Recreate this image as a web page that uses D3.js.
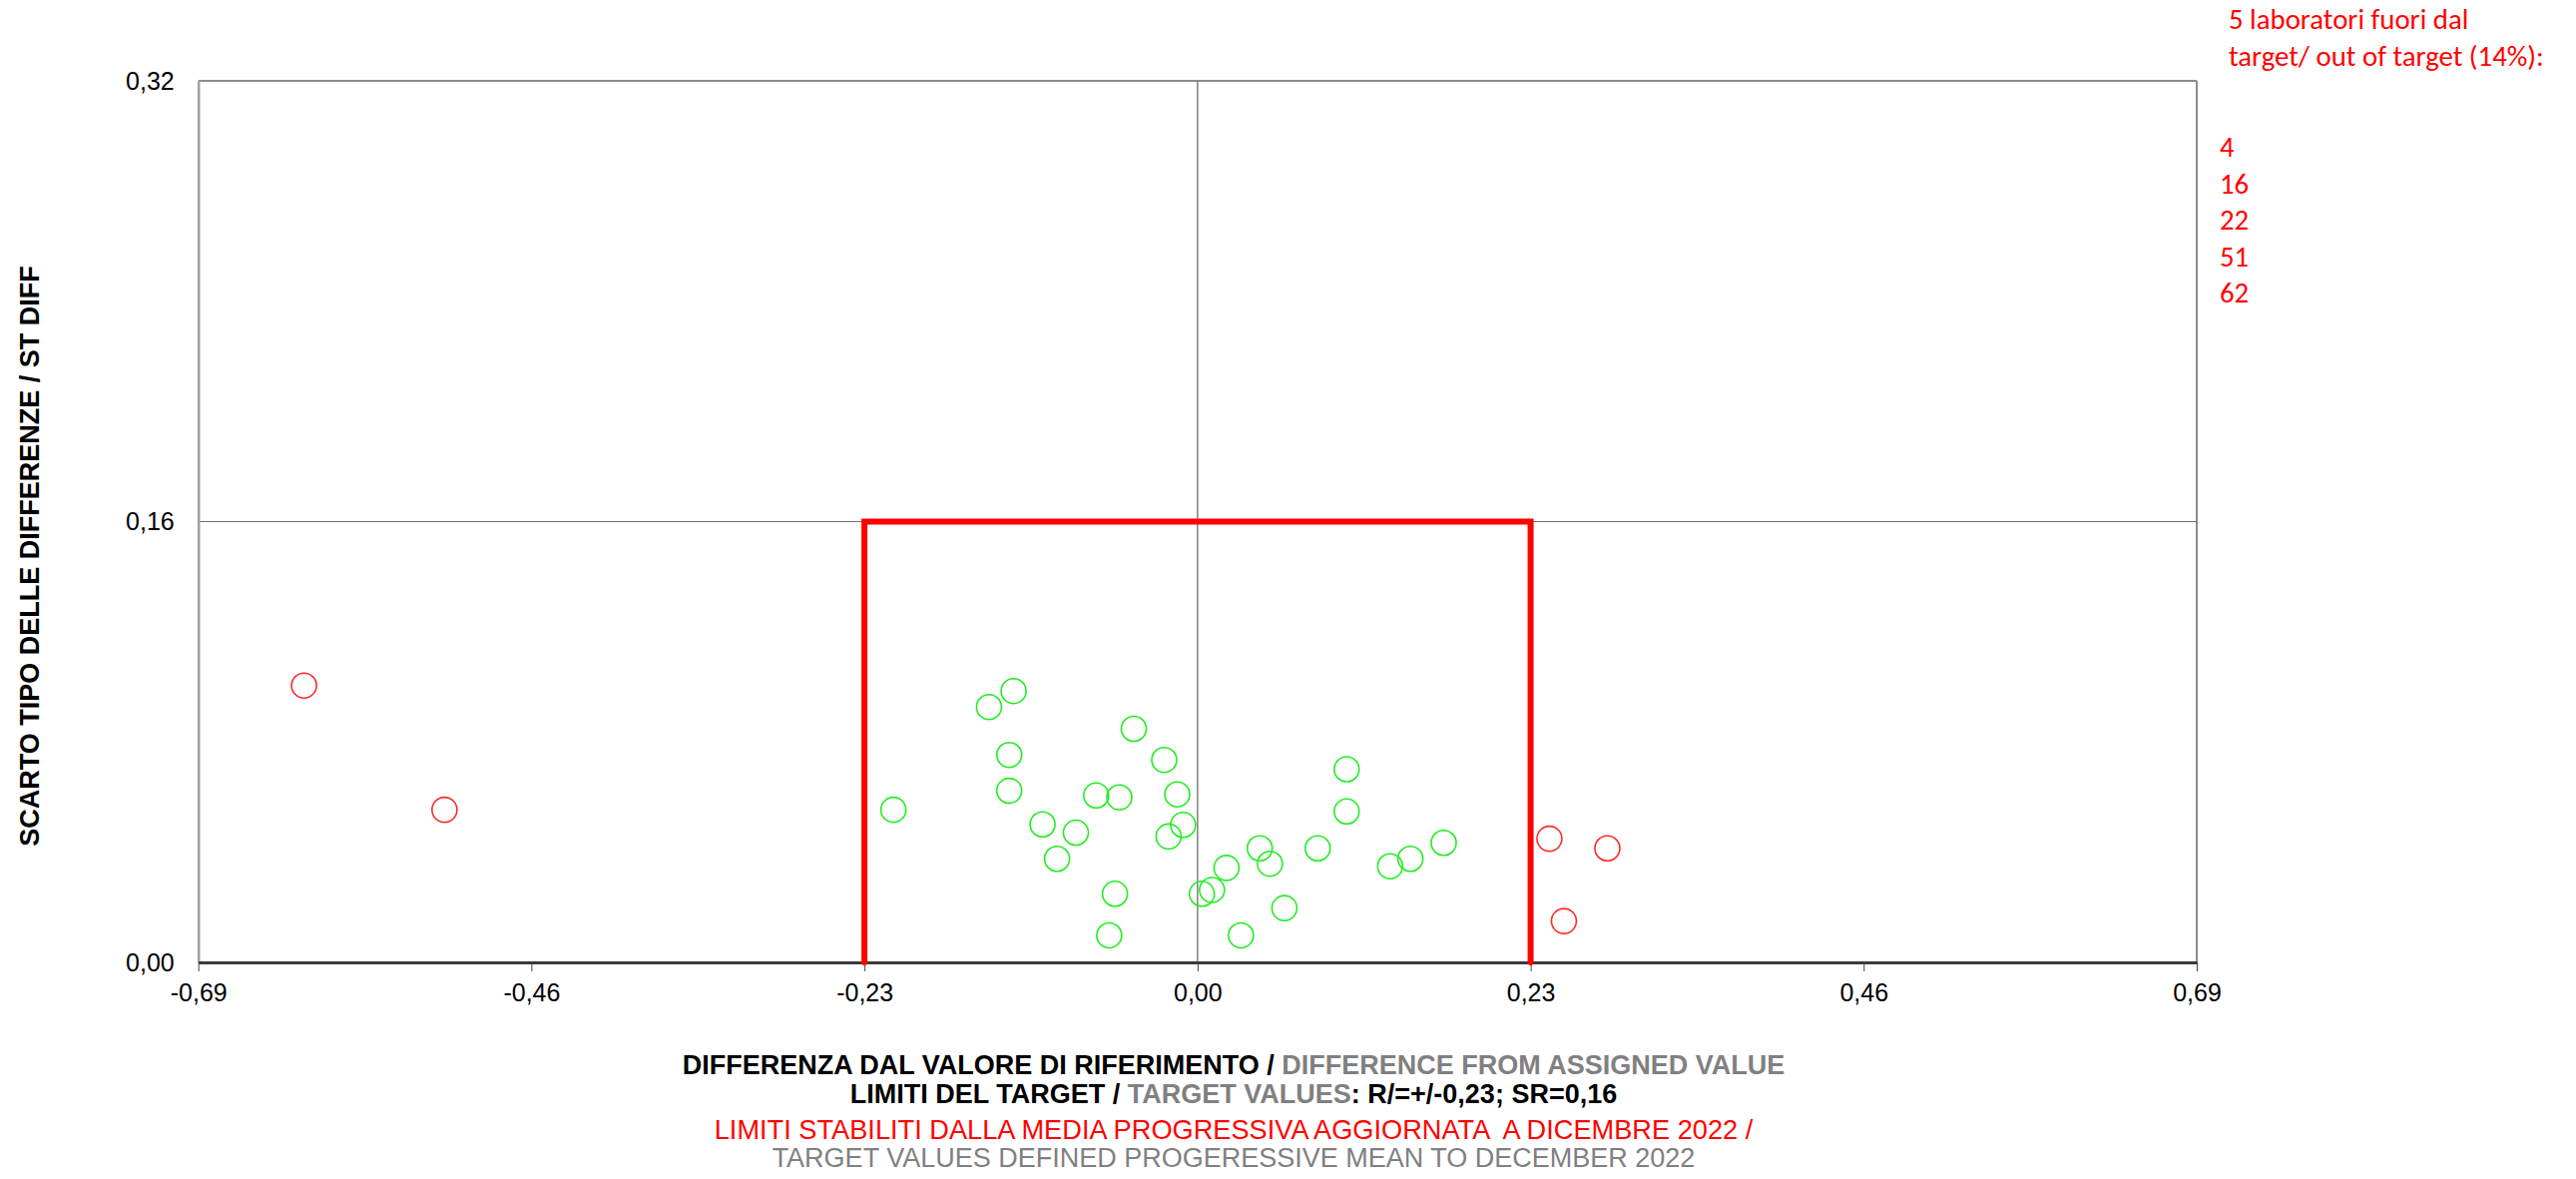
<!DOCTYPE html>
<html>
<head>
<meta charset="utf-8">
<script src="https://cdn.jsdelivr.net/npm/d3@7/dist/d3.min.js"></script>
<style>
  html, body { margin: 0; padding: 0; background: #fff; }
  svg { display: block; }
  text { white-space: pre; }
</style>
</head>
<body>
<script>
// ---------------- DATA ----------------
const xTickValues = [-0.69, -0.46, -0.23, 0.00, 0.23, 0.46, 0.69];
const xTickLabels = ["-0,69", "-0,46", "-0,23", "0,00", "0,23", "0,46", "0,69"];
const yTickValues = [0.00, 0.16, 0.32];
const yTickLabels = ["0,00", "0,16", "0,32"];

// laboratories inside target (green)
const inX = [-0.210, -0.144, -0.127, -0.044, -0.130, -0.023, -0.130, -0.070, -0.054, -0.014,
             -0.107, -0.084, -0.020, -0.010, -0.097, -0.057, -0.061,  0.003,  0.010,  0.020,
              0.043,  0.050,  0.060,  0.030,  0.083,  0.103,  0.103,  0.133,  0.147,  0.170];
const inY = [ 0.0554, 0.0927, 0.0985, 0.0848, 0.0753, 0.0735, 0.0623, 0.0606, 0.0599, 0.0610,
              0.0501, 0.0471, 0.0457, 0.0499, 0.0376, 0.0249, 0.0098, 0.0249, 0.0263, 0.0343,
              0.0414, 0.0358, 0.0197, 0.0098, 0.0414, 0.0701, 0.0548, 0.0349, 0.0376, 0.0434];

// laboratories out of target (red)
const outX = [-0.617, -0.520, 0.243, 0.253, 0.283];
const outY = [ 0.1005, 0.0554, 0.0449, 0.0150, 0.0414];

// target limits
const targetR = 0.23;
const targetSR = 0.16;

const outLabs = ["4", "16", "22", "51", "62"];
const noteLines = ["5 laboratori fuori dal", "target/ out of target (14%):"];

// ---------------- CHART ----------------
const W = 2581, H = 1181;
const svg = d3.select("body").append("svg").attr("width", W).attr("height", H);
const FONT = "'Liberation Sans', Arial, sans-serif";

const x = d3.scaleLinear().domain([-0.69, 0.69]).range([198.7, 2201]);
const y = d3.scaleLinear().domain([0, 0.32]).range([964, 81]);

// frame (top, right)
svg.append("line").attr("x1", x(-0.69)).attr("x2", x(0.69)).attr("y1", y(0.32)).attr("y2", y(0.32))
  .attr("stroke", "#8c8c8c").attr("stroke-width", 2);
svg.append("line").attr("x1", x(0.69)).attr("x2", x(0.69)).attr("y1", y(0.32)).attr("y2", y(0))
  .attr("stroke", "#8c8c8c").attr("stroke-width", 2);

// gridlines
svg.append("line").attr("x1", x(-0.69)).attr("x2", x(0.69)).attr("y1", y(0.16)).attr("y2", y(0.16))
  .attr("stroke", "#707070").attr("stroke-width", 1.2);
svg.append("line").attr("x1", x(0)).attr("x2", x(0)).attr("y1", y(0.32)).attr("y2", y(0))
  .attr("stroke", "#808080").attr("stroke-width", 1.5);

// y axis
const yAxis = svg.append("g").attr("transform", `translate(${x(-0.69)},0)`)
  .call(d3.axisLeft(y).tickValues(yTickValues).tickFormat((d, i) => yTickLabels[i]).tickSize(0).tickPadding(24));
yAxis.select(".domain").attr("stroke", "#a0a0a0").attr("stroke-width", 2.5);
yAxis.selectAll("text").attr("font-family", FONT).attr("font-size", 25).attr("fill", "#000");

// x axis
const xAxis = svg.append("g").attr("transform", `translate(0,${y(0)})`)
  .call(d3.axisBottom(x).tickValues(xTickValues).tickFormat((d, i) => xTickLabels[i]).tickSize(9).tickSizeOuter(0).tickPadding(12));
xAxis.select(".domain").attr("stroke", "#3a3a3a").attr("stroke-width", 3);
xAxis.selectAll(".tick line").attr("stroke", "#444").attr("stroke-width", 1);
xAxis.selectAll("text").attr("font-family", FONT).attr("font-size", 25).attr("fill", "#000");

// target box
const boxPts = [[-targetR, 0], [-targetR, targetSR], [targetR, targetSR], [targetR, 0]];
svg.append("path")
  .attr("d", d3.line().x(d => x(d[0])).y(d => y(d[1]))(boxPts))
  .attr("fill", "none").attr("stroke", "#ff0000").attr("stroke-width", 6)
  .attr("stroke-linecap", "round").attr("stroke-linejoin", "miter");

// points
svg.append("g").selectAll("circle").data(inX.map((v, i) => [v, inY[i]])).join("circle")
  .attr("cx", d => x(d[0])).attr("cy", d => y(d[1])).attr("r", 12.5)
  .attr("fill", "none").attr("stroke", "#22ee22").attr("stroke-width", 1.6);
svg.append("g").selectAll("circle").data(outX.map((v, i) => [v, outY[i]])).join("circle")
  .attr("cx", d => x(d[0])).attr("cy", d => y(d[1])).attr("r", 12.5)
  .attr("fill", "none").attr("stroke", "#ff2a2a").attr("stroke-width", 1.6);

// y axis title
svg.append("text")
  .attr("transform", `translate(39,557) rotate(-90)`)
  .attr("text-anchor", "middle")
  .attr("font-family", FONT).attr("font-weight", "bold").attr("font-size", 27)
  .text("SCARTO TIPO DELLE DIFFERENZE / ST DIFF");

// bottom titles
const cx = 1236;
const t1 = svg.append("text").attr("x", cx).attr("y", 1076).attr("text-anchor", "middle")
  .attr("font-family", FONT).attr("font-weight", "bold").attr("font-size", 27);
t1.append("tspan").attr("fill", "#000").text("DIFFERENZA DAL VALORE DI RIFERIMENTO / ");
t1.append("tspan").attr("fill", "#808080").text("DIFFERENCE FROM ASSIGNED VALUE");

const t2 = svg.append("text").attr("x", cx).attr("y", 1105).attr("text-anchor", "middle")
  .attr("font-family", FONT).attr("font-weight", "bold").attr("font-size", 27);
t2.append("tspan").attr("fill", "#000").text("LIMITI DEL TARGET / ");
t2.append("tspan").attr("fill", "#808080").text("TARGET VALUES");
t2.append("tspan").attr("fill", "#000").text(": R/=+/-0,23; SR=0,16");

svg.append("text").attr("x", cx).attr("y", 1141).attr("text-anchor", "middle")
  .attr("font-family", FONT).attr("font-size", 27.2).attr("fill", "#ff0000")
  .text("LIMITI STABILITI DALLA MEDIA PROGRESSIVA AGGIORNATA  A DICEMBRE 2022 /");
svg.append("text").attr("x", cx).attr("y", 1169).attr("text-anchor", "middle")
  .attr("font-family", FONT).attr("font-size", 27).attr("fill", "#808080")
  .text("TARGET VALUES DEFINED PROGERESSIVE MEAN TO DECEMBER 2022");

// right note
const NFONT = "Carlito, Calibri, Lato, 'Noto Sans', sans-serif";
svg.append("g").selectAll("text").data(noteLines).join("text")
  .attr("x", 2233).attr("y", (d, i) => 29 + i * 37)
  .attr("font-family", NFONT).attr("font-size", 28.8).attr("fill", "#ff0000")
  .text(d => d);
svg.append("g").selectAll("text").data(outLabs).join("text")
  .attr("x", 2224).attr("y", (d, i) => 157 + i * 36.5)
  .attr("font-family", NFONT).attr("font-size", 28.8).attr("fill", "#ff0000")
  .text(d => d);
</script>
</body>
</html>
